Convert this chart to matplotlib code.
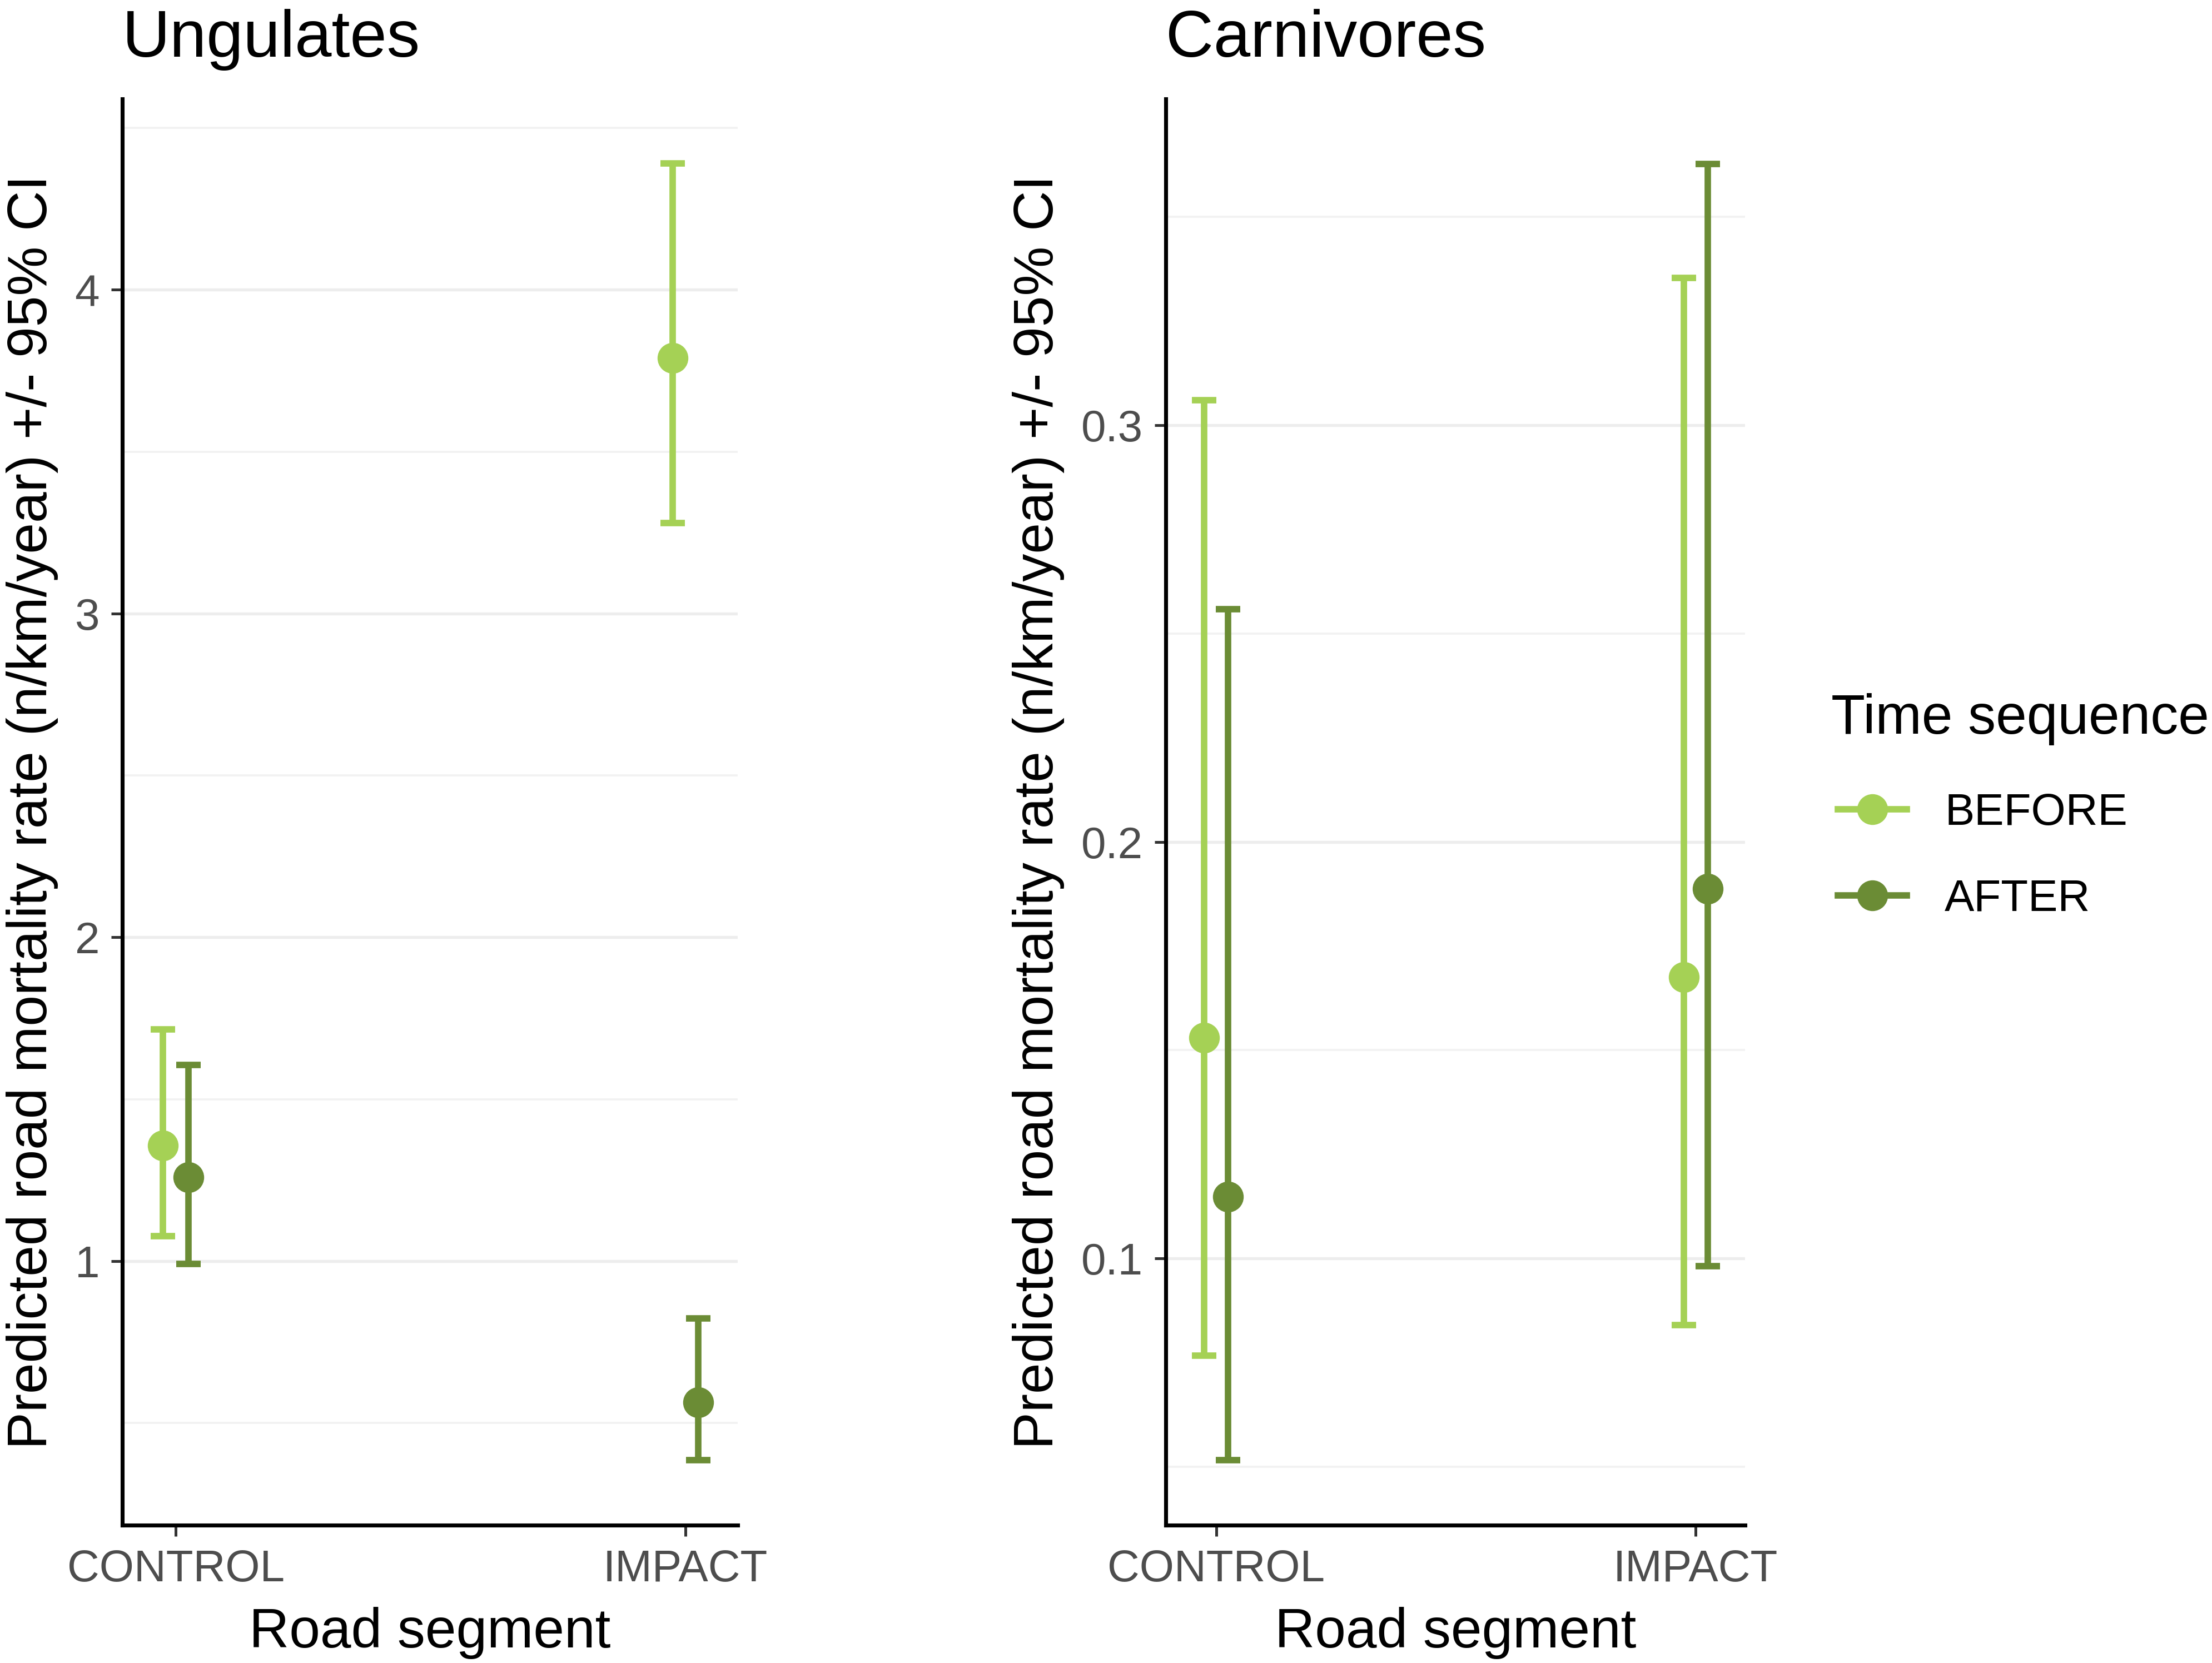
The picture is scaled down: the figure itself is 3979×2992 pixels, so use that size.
import numpy as np
import matplotlib.pyplot as plt
from matplotlib.lines import Line2D

plt.rcParams['font.family'] = ['Liberation Sans', 'DejaVu Sans']

# categorias e series
segmentos = ['CONTROL', 'IMPACT']
sequencias = ['BEFORE', 'AFTER']
cores = ['#A5D155', '#6B8C35']

# Ungulates (taxa prevista, IC 95%)
ung_before = [1.357, 3.79]
ung_before_low = [1.077, 3.28]
ung_before_high = [1.716, 4.39]
ung_after = [1.259, 0.564]
ung_after_low = [0.992, 0.386]
ung_after_high = [1.606, 0.824]

# Carnivores
carn_before = [0.153, 0.1675]
carn_before_low = [0.0767, 0.0840]
carn_before_high = [0.306, 0.3354]
carn_after = [0.1149, 0.1887]
carn_after_low = [0.0516, 0.0982]
carn_after_high = [0.2558, 0.3627]

ylabel = 'Predicted road mortality rate (n/km/year) +/- 95% CI'
dodge = 0.025


def desenha_painel(ax, titulo, series, ylim, major, minor, ylab_x):
    x = np.arange(1, len(segmentos) + 1)
    for i, (media, baixo, alto) in enumerate(series):
        media = np.array(media)
        erro = [media - np.array(baixo), np.array(alto) - media]
        desloc = -dodge if i == 0 else dodge
        # barras de erro com os "chapéus"
        ax.errorbar(x + desloc, media, yerr=erro, fmt='none', ecolor=cores[i],
                    elinewidth=2.8, capsize=5.3, capthick=2.8, zorder=3)
        # pontos por cima
        ax.plot(x + desloc, media, 'o', color=cores[i], ms=13.3, mew=0, zorder=4)
    ax.set_xlim(0.895, 2.103)
    ax.set_ylim(*ylim)
    ax.set_xticks(x)
    ax.set_xticklabels(segmentos)
    ax.set_yticks(major)
    ax.set_yticklabels([f'{v:g}' for v in major])
    ax.set_yticks(minor, minor=True)
    ax.grid(axis='y', which='major', color='#EDEDED', lw=1.3)
    ax.grid(axis='y', which='minor', color='#F2F2F2', lw=0.9)
    ax.set_axisbelow(True)
    for lado in ['top', 'right']:
        ax.spines[lado].set_visible(False)
    for lado in ['left', 'bottom']:
        ax.spines[lado].set_linewidth(1.7)
        ax.spines[lado].set_color('black')
    ax.tick_params(which='major', length=4.8, width=1.2, color='#333333',
                   labelsize=19.2, labelcolor='#4D4D4D')
    ax.tick_params(axis='x', pad=5.5)
    ax.tick_params(axis='y', pad=5)
    ax.tick_params(which='minor', length=0)
    ax.set_xlabel('Road segment', fontsize=24, va='baseline')
    ax.xaxis.set_label_coords(0.5, -0.0857)
    ax.set_ylabel(ylabel, fontsize=24, va='center')
    ax.yaxis.set_label_coords(ylab_x, 0.5)
    ax.text(0, 1.0297, titulo, transform=ax.transAxes, fontsize=28.6,
            ha='left', va='baseline')


fig = plt.figure(figsize=(3979 / 300, 2992 / 300), dpi=300)
ax1 = fig.add_axes([0.05529, 0.08289, 0.27821, 0.85762])
ax2 = fig.add_axes([0.52702, 0.08289, 0.26188, 0.85762])

desenha_painel(ax1, 'Ungulates',
               [(ung_before, ung_before_low, ung_before_high),
                (ung_after, ung_after_low, ung_after_high)],
               (0.185, 4.589), [1, 2, 3, 4], [0.5, 1.5, 2.5, 3.5, 4.5], -0.1463)
desenha_painel(ax2, 'Carnivores',
               [(carn_before, carn_before_low, carn_before_high),
                (carn_after, carn_after_low, carn_after_high)],
               (0.0360, 0.3783), [0.1, 0.2, 0.3], [0.05, 0.15, 0.25, 0.35], -0.2198)

# legenda: titulo separado para controlar o espaçamento
fig.text(0.8278, 0.5588, 'Time sequence', fontsize=24, ha='left', va='baseline')
handles = [Line2D([], [], color=c, lw=2.8, marker='o', ms=13.3, mew=0) for c in cores]
fig.legend(handles, sequencias, loc='center left', bbox_to_anchor=(0.8309, 0.4851),
           frameon=False, fontsize=19.2, borderpad=0, borderaxespad=0,
           handlelength=1.55, handletextpad=0.85, labelspacing=1.0)

fig.savefig('out.png', dpi=300)
